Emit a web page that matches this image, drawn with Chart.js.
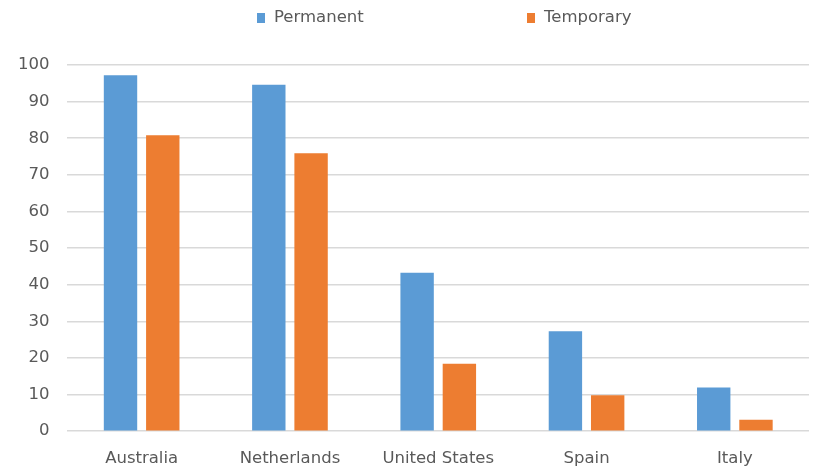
<!DOCTYPE html>
<html lang="en">
<head>
    <meta charset="UTF-8">
    <title>Permanent vs Temporary</title>
    <script src="https://cdn.jsdelivr.net/npm/chart.js"></script>
    <style>
        body {
            margin: 0;
            padding: 0;
            background: #ffffff;
            font-family: "DejaVu Sans", sans-serif;
        }
        .wrap {
            position: relative;
            width: 819px;
            height: 467px;
        }
        .legend {
            position: absolute;
            top: 7px;
            left: 0;
            width: 819px;
            height: 20px;
            font-size: 16.5px;
            color: #595959;
        }
        .legend span.item {
            position: absolute;
            top: 0;
            white-space: nowrap;
        }
        .legend i {
            display: inline-block;
            width: 8px;
            height: 10px;
            margin-right: 9px;
            vertical-align: -1px;
        }
    </style>
</head>
<body>
    <div class="wrap">
        <div class="legend" id="legend"></div>
        <canvas id="chart" width="819" height="467"></canvas>
    </div>

    <script>
        const categories = ['Australia', 'Netherlands', 'United States', 'Spain', 'Italy'];
        const permanent = [97.2, 94.6, 43.3, 27.3, 11.9];
        const temporary = [80.8, 75.9, 18.4, 9.8, 3.1];
        const seriesNames = ['Permanent', 'Temporary'];
        const seriesColors = ['#5b9bd5', '#ed7d31'];
        const legendLeft = [257, 527];

        // html legend, spaced like the original
        const legend = document.getElementById('legend');
        seriesNames.forEach((name, i) => {
            const item = document.createElement('span');
            item.className = 'item';
            item.style.left = legendLeft[i] + 'px';
            item.innerHTML = '<i style="background:' + seriesColors[i] + '"></i>' + name;
            legend.appendChild(item);
        });

        Chart.defaults.font.family = '"DejaVu Sans", sans-serif';
        Chart.defaults.font.size = 16.5;
        Chart.defaults.color = '#595959';

        new Chart(document.getElementById('chart'), {
            type: 'bar',
            data: {
                labels: categories,
                datasets: [
                    {
                        label: seriesNames[0],
                        data: permanent,
                        backgroundColor: seriesColors[0],
                        categoryPercentage: 0.57,
                        barPercentage: 0.79
                    },
                    {
                        label: seriesNames[1],
                        data: temporary,
                        backgroundColor: seriesColors[1],
                        categoryPercentage: 0.57,
                        barPercentage: 0.79
                    }
                ]
            },
            options: {
                responsive: false,
                animation: false,
                layout: {
                    padding: { top: 65, left: 0, right: 10, bottom: -20 }
                },
                plugins: {
                    legend: { display: false },
                    tooltip: { enabled: false }
                },
                scales: {
                    x: {
                        grid: { display: false, drawTicks: false },
                        border: { display: false },
                        ticks: { padding: 18 }
                    },
                    y: {
                        min: 0,
                        max: 100,
                        ticks: { stepSize: 10, padding: 18 },
                        grid: { color: '#d9d9d9', lineWidth: 1.5, drawTicks: false },
                        border: { display: false }
                    }
                }
            }
        });
    </script>
</body>
</html>
